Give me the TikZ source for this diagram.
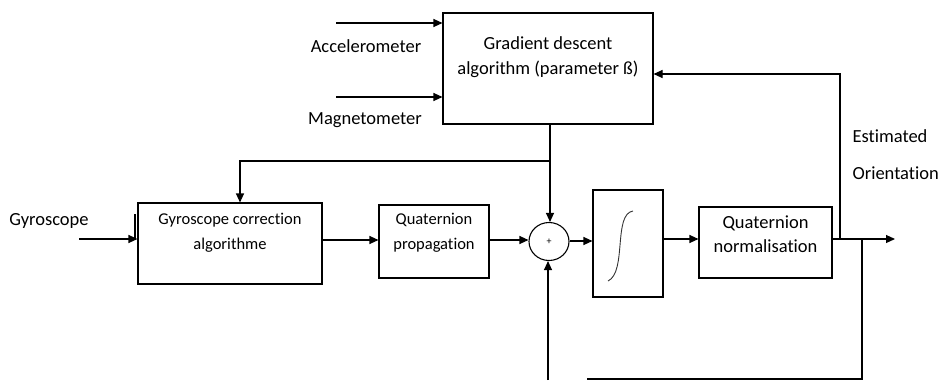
\documentclass[tikz,border=0pt]{standalone}
\usepackage{fontspec}
\setmainfont{Carlito}[Ligatures={NoCommon}]
\usetikzlibrary{arrows.meta,shapes.geometric}
\begin{document}
\begin{tikzpicture}[x=1pt,y=-1pt,
  line width=1.1pt,
  box/.style={draw, rectangle, inner sep=0pt},
  big/.style={inner sep=0pt, anchor=mid, font=\fontsize{18.5}{22}\selectfont},
  small/.style={inner sep=0pt, anchor=mid, font=\fontsize{16.5}{20}\selectfont},
  arr/.style={-{Triangle[length=9pt,width=8pt]}}
]
\useasboundingbox (0,0) rectangle (941,380);

% blocks
\node[box, minimum width=210pt, minimum height=111pt] (grad) at (548,68.5) {};
\node[box, minimum width=184pt, minimum height=81pt] (corr) at (230,243.5) {};
\node[box, minimum width=110pt, minimum height=73pt] (prop) at (434,241.5) {};
\node[draw, ellipse, minimum width=40pt, minimum height=38pt, inner sep=0pt] (sum) at (549,241.5) {};
\node[box, minimum width=70pt, minimum height=107pt] (integ) at (628,243.5) {};
\node[box, minimum width=133pt, minimum height=71pt] (norm) at (765.5,242.5) {};

% block texts
\node[big] (gradA) at (548,47) {Gradient descent};
\node[big] (gradB) at (548,72) {algorithm (parameter ß)};
\node[small] (corrA) at (230,222) {Gyroscope correction};
\node[small] (corrB) at (230,247) {algorithme};
\node[small] (propA) at (434,222) {Quaternion};
\node[small] (propB) at (434,247) {propagation};
\node[big] (normA) at (765.5,226) {Quaternion};
\node[big] (normB) at (765.5,250) {normalisation};
\node[inner sep=0pt, font=\fontsize{10}{10}\selectfont] (plus) at (sum.center) {+};

% integrator curve
\draw[line width=0.9pt, black!80] (608,281) .. controls (627,272) and (613,214) .. (633,211);

% input labels
\node[big] (acc) at (366,50) {Accelerometer};
\node[big] (mag) at (365,122) {Magnetometer};
\node[big] (gyro) at (49,223) {Gyroscope};
\node[big, anchor=mid west] (est) at (852,140) {Estimated};
\node[big, anchor=mid west] (ori) at (852,177) {Orientation};

% free ends of connectors
\coordinate (accS) at (336,23);
\coordinate (magS) at (336,97);
\coordinate (gyroS) at (79,239);
\coordinate (tickT) at (135,214);
\coordinate (tickB) at (135,240);
\coordinate (split) at (550,161);
\coordinate (corrIn) at (240,161);
\coordinate (outA) at (840,239);
\coordinate (outB) at (862,239);
\coordinate (outEnd) at (895,239);
\coordinate (fbTop) at (840,74);
\coordinate (fbBot) at (862,379);
\coordinate (fbEnd) at (587,379);
\coordinate (sumFeed) at (548,380);

% inputs
\draw[arr] (accS) -- (accS -| grad.west);
\draw[arr] (magS) -- (magS -| grad.west);
\draw[arr] (gyroS) -- (gyroS -| corr.west);
\draw (tickT) -- (tickB);

% main chain
\draw[arr] (corr.east |- 0,240) -- (prop.west |- 0,240);
\draw[arr] (prop.east |- 0,240) -- (sum.west |- 0,240);
\draw[arr] (sum.east |- 0,241) -- (integ.west |- 0,241);
\draw[arr] (integ.east |- 0,239) -- (norm.west |- 0,239);
\draw[arr] (norm.east |- 0,239) -- (outEnd);

% gradient correction into the sum and the gyroscope correction
\draw[arr] (grad.south -| split) -- (sum.north -| split);
\draw[arr] (split) -- (corrIn) -- (corr.north -| corrIn);

% feedback of the estimated orientation
\draw[arr] (outA) -- (fbTop) -- (fbTop -| grad.east);
\draw (outB) -- (fbBot) -- (fbEnd);
\draw[arr] (sumFeed) -- (sum.south -| sumFeed);
\end{tikzpicture}
\end{document}
